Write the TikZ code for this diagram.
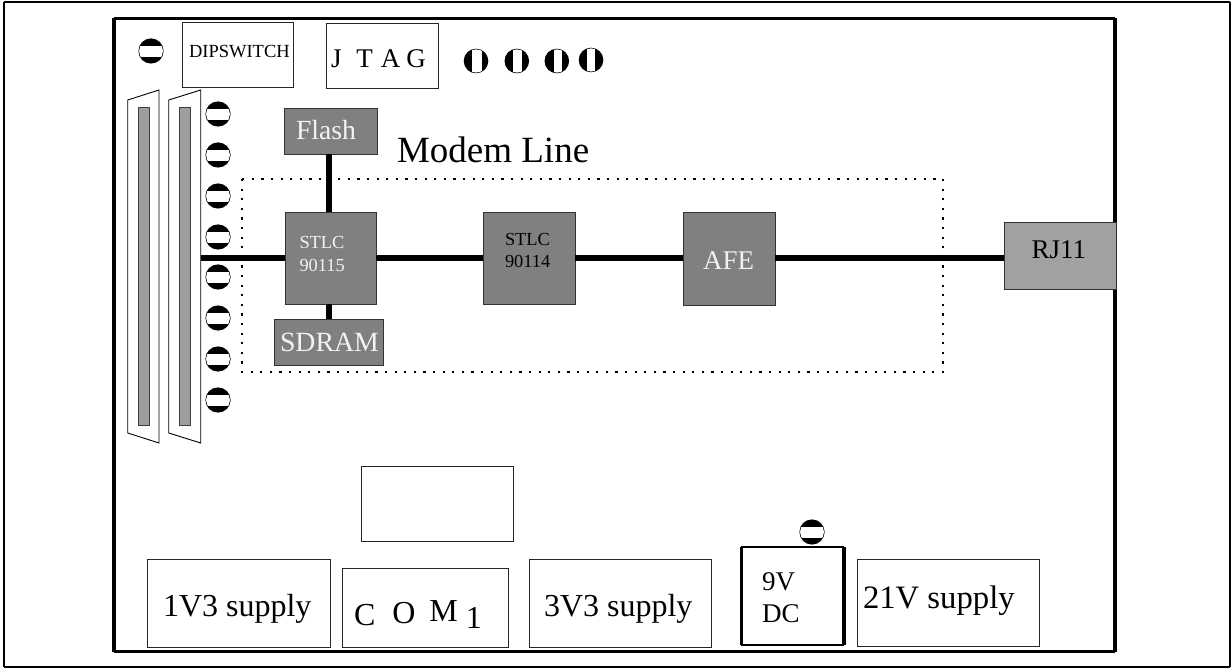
\documentclass[tikz,border=0pt]{standalone}
\usepackage{fontspec}
\setmainfont{Liberation Serif}
\newcommand{\fsz}[1]{\fontsize{#1}{#1}\selectfont}
\newcommand{\holeh}[2]{%
  \fill[black] (#1,#2) circle (12.6);
  \begin{scope}\clip (#1,#2) circle (11.9);
    \fill[white] (#1-13,#2-5.2) rectangle (#1+13,#2+5.6);
  \end{scope}}
\newcommand{\holev}[4]{%
  \fill[black] (#1,#2) circle (12.3);
  \begin{scope}\clip (#1,#2) circle (11.6);
    \fill[white] (#1+#3,#2-13) rectangle (#1+#4,#2+13);
  \end{scope}}
\tikzset{
  box/.style={draw=black!85,line width=0.9pt,fill=white,anchor=north west,inner sep=0pt,outer sep=0pt},
  chip/.style={draw=black!80,line width=0.9pt,fill=black!50,anchor=north west,inner sep=0pt,outer sep=0pt},
  rjbox/.style={draw=black!80,line width=0.9pt,fill=black!37,anchor=north west,inner sep=0pt,outer sep=0pt},
  lbl/.style={anchor=base west,inner sep=0pt,outer sep=0pt,text=black},
  wlbl/.style={lbl,text=white!95!black},
  bus/.style={line width=5.4pt,black,line cap=butt},
  frameline/.style={black,line cap=square},
  dbshell/.style={draw=black,line width=0.9pt,fill=white},
  dbbar/.style={draw=black!75,line width=0.8pt,fill=black!38},
}
\begin{document}
\begin{tikzpicture}[x=1pt,y=-1pt]
\useasboundingbox (0,0) rectangle (1231,668);
% outer frame
\draw[frameline,line width=2pt] (4,2) -- (1230,2);
\draw[frameline,line width=2pt] (4,2) -- (4,667);
\draw[frameline,line width=1.1pt] (4,667) -- (1230,667);
\draw[frameline,line width=1.1pt] (1230,2) -- (1230,667);
% board frame
\draw[frameline,line width=3pt] (114,18.5) -- (1115,18.5);
\draw[frameline,line width=3pt] (114,651.5) -- (1115,651.5);
\draw[frameline,line width=4pt] (114,18.5) -- (114,651.5);
\draw[frameline,line width=4pt] (1115,18.5) -- (1115,651.5);
% top row
\node[box,minimum width=111pt,minimum height=65pt] (dip) at (182,22) {};
\node[lbl] (diptxt) at (189,58) {\fsz{18.5}DIPSWITCH};
\node[box,minimum width=112pt,minimum height=65pt] (jtag) at (326,23) {};
\node[lbl] (jtagtxt) at (331,68) {\fsz{27}J\hspace{15pt}T\hspace{8pt}A\hspace{6pt}G};
\holeh{151}{51}
\holev{476}{61}{-4}{5.7}
\holev{516.8}{61}{-4}{5}
\holev{556.8}{61}{-2.8}{5}
\holev{591}{60}{-4.3}{4}
% sub-D connectors
\draw[dbshell] (127.7,100) -- (159,90) -- (159,443) -- (127.7,433) -- cycle;
\draw[dbbar] (138,107) rectangle (149,425);
\draw[dbshell] (168.7,100) -- (200.7,90) -- (200.7,443) -- (168.7,433) -- cycle;
\draw[dbbar] (179.5,107) rectangle (190.7,425);
\coordinate (dbport) at (200.7,258);
% hole column
\holeh{218}{114}
\holeh{218}{155}
\holeh{218}{196}
\holeh{218}{237}
\holeh{218}{277}
\holeh{218}{318}
\holeh{218}{359}
\holeh{218}{400}
\holeh{812}{532}
% modem line
\draw[black,line width=2.2pt,dash pattern=on 2.2pt off 7.4pt] (242,179) rectangle (943,372);
\node[lbl] (modemtxt) at (397,163) {\fsz{37}Modem Line};
% chips
\node[chip,minimum width=93pt,minimum height=46pt] (flash) at (284,108) {};
\node[chip,minimum width=91pt,minimum height=92pt] (c115) at (285,212) {};
\node[chip,minimum width=109pt,minimum height=46pt] (sdram) at (274,319) {};
\node[chip,minimum width=92pt,minimum height=92pt] (c114) at (483,212.5) {};
\node[chip,minimum width=92pt,minimum height=93pt] (afe) at (683,212) {};
\node[rjbox,minimum width=112pt,minimum height=66.5pt] (rj) at (1004,222.5) {};
% connectors
\draw[bus] ([xshift=-1.5pt]flash.south) -- ([xshift=-1.5pt]c115.north);
\draw[bus] ([xshift=-1.5pt]c115.south) -- ([xshift=-1.5pt]c115.south |- sdram.north);
\draw[bus] (dbport) -- (dbport -| c115.west);
\draw[bus] (dbport -| c115.east) -- (dbport -| c114.west);
\draw[bus] (dbport -| c114.east) -- (dbport -| afe.west);
\draw[bus] (dbport -| afe.east) -- (dbport -| rj.west);
% chip labels
\node[wlbl] (flashtxt) at (296,140) {\fsz{27.7}Flash};
\node[wlbl,align=left] (t115a) at (299.5,249) {\fsz{18.4}STLC};
\node[wlbl] (t115b) at (299.5,272) {\fsz{18.4}90115};
\node[wlbl] (sdramtxt) at (280,351) {\fsz{27.8}SDRAM};
\node[lbl] (t114a) at (505,246) {\fsz{18.4}STLC};
\node[lbl] (t114b) at (505,268) {\fsz{18.4}90114};
\node[wlbl] (afetxt) at (703,270) {\fsz{27}AFE};
\node[lbl] (rjtxt) at (1031.5,259) {\fsz{27}RJ11};
% bottom row
\node[box,minimum width=152pt,minimum height=75pt] (blank) at (361,466) {};
\node[box,minimum width=183pt,minimum height=88pt] (v13) at (147,559) {};
\node[lbl] (v13txt) at (163,616) {\fsz{32}1V3 supply};
\node[box,minimum width=166pt,minimum height=79pt] (com) at (342,568) {};
\node[lbl] (comtxt) at (354,625) {\fsz{32}C\hspace{17pt}\raisebox{2pt}{O}\hspace{14pt}\raisebox{4pt}{M}\hspace{8pt}\raisebox{-3pt}{1}};
\node[box,minimum width=182pt,minimum height=88pt] (v33) at (529,559) {};
\node[lbl] (v33txt) at (544,616) {\fsz{32}3V3 supply};
\node[box,minimum width=182pt,minimum height=87pt] (v21) at (857,559) {};
\node[lbl] (v21txt) at (863,608) {\fsz{32.7}21V supply};
% 9V DC
\node[box,draw=none,minimum width=103pt,minimum height=98pt] (dc) at (741,547) {};
\draw[black,line width=1.6pt] (dc.north west) -- (dc.north east);
\draw[black,line width=1.6pt] (dc.south west) -- (dc.south east);
\draw[black,line width=3pt] (dc.north west) -- (dc.south west);
\draw[black,line width=4pt] (dc.north east) -- (dc.south east);
\node[lbl] (dctxt1) at (762,590) {\fsz{27}9V};
\node[lbl] (dctxt2) at (762,622) {\fsz{27}DC};
\end{tikzpicture}
\end{document}
